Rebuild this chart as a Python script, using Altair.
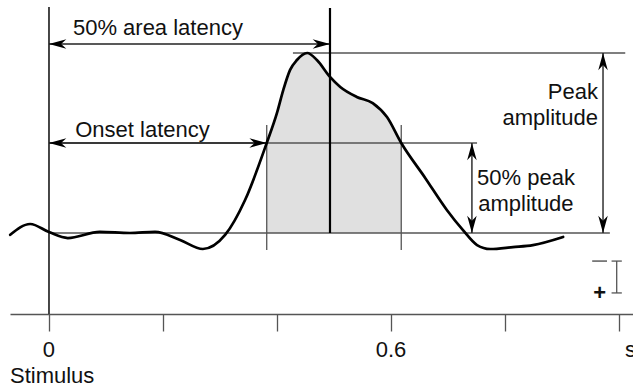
import altair as alt
import pandas as pd

# ERP waveform: time in seconds, amplitude in microvolts (negative drawn up)
time_s = [-0.068, -0.033, 0.0, 0.033, 0.089, 0.142, 0.186, 0.230, 0.270, 0.309,
          0.344, 0.382, 0.400, 0.411, 0.423, 0.435, 0.453, 0.470, 0.493, 0.511,
          0.540, 0.568, 0.593, 0.618, 0.660, 0.698, 0.726, 0.751, 0.774, 0.814,
          0.849, 0.902]
amp_uv = [-0.10, 0.50, 0.05, -0.28, 0.06, 0.00, 0.06, -0.39, -0.89, -0.11,
          1.83, 5.00, 6.67, 7.94, 9.06, 9.61, 10.00, 9.61, 8.67, 8.11,
          7.56, 7.22, 6.44, 5.00, 3.06, 1.28, 0.17, -0.67, -0.89, -0.78,
          -0.67, -0.22]

# Measures derived from the waveform
onset_s = 0.382       # 50% peak crossing, rising edge
offset_s = 0.618      # 50% peak crossing, falling edge
area50_s = 0.493      # 50% area latency
peak_uv = 10.0
half_uv = 5.0
tick_values = [0, 0.2, 0.4, 0.6, 0.8, 1.0]

X_DOM = [-0.0684, 1.0246]
Y_DOM = [-4.5, 12.944]
FONT = "Liberation Sans"
FS = 22
GRAY = "#555555"
INTERP = "monotone"

xs = alt.Scale(domain=X_DOM, nice=False, zero=False)
ys = alt.Scale(domain=Y_DOM, nice=False, zero=False)
x_axis = alt.Axis(values=tick_values, labels=False, ticks=True, tickSize=17,
                  tickColor=GRAY, tickWidth=1.3, domainColor=GRAY, domainWidth=1.3,
                  grid=False, title=None)


def X(field):
    return alt.X(field, type="quantitative", scale=xs, axis=x_axis)


def Y(field):
    return alt.Y(field, type="quantitative", scale=ys, axis=None)


wave = pd.DataFrame({"t": time_s, "a": amp_uv})
wave["base"] = 0.0
shaded = wave[(wave.t >= onset_s) & (wave.t <= offset_s)]

area = alt.Chart(shaded).mark_area(
    color="#e0e0e0", opacity=1, interpolate=INTERP
).encode(x=X("t"), y=Y("a"), y2="base:Q")


def segs(rows):
    return pd.DataFrame(rows, columns=["t", "t2", "a", "a2"])


thin = segs([
    [0.0, 0.984, 0.0, 0.0],                # baseline
    [0.428, 1.011, peak_uv, peak_uv],      # peak level
    [0.0, 0.751, half_uv, half_uv],        # 50% peak level
    [onset_s, onset_s, 6.0, -0.94],
    [offset_s, offset_s, 6.0, -0.94],
    [0.996, 0.996, -1.56, -3.33],          # polarity bar
    [0.987, 1.005, -1.56, -1.56],
    [0.987, 1.005, -3.33, -3.33],
])
minus_sign = segs([[0.953, 0.979, -1.56, -1.56]])
stim = segs([[0.0, 0.0, 12.56, -4.5]])
area_lat = segs([[area50_s, area50_s, 12.5, 0.0]])
shafts = segs([
    [0.0, area50_s, 10.5, 10.5],
    [0.0, onset_s, half_uv, half_uv],
    [0.972, 0.972, 0.0, peak_uv],
    [0.742, 0.742, 0.0, half_uv],
])


def rule_layer(df, color, width):
    return alt.Chart(df).mark_rule(color=color, strokeWidth=width).encode(
        x=X("t"), x2="t2:Q", y=Y("a"), y2="a2:Q")


arrow_df = pd.DataFrame({
    "t": [0.0, area50_s, 0.0, onset_s, 0.972, 0.972, 0.742, 0.742],
    "a": [10.5, 10.5, half_uv, half_uv, peak_uv, 0.0, half_uv, 0.0],
    "angle": [180, 0, 180, 0, 270, 90, 270, 90],
})
ARROW = "M0,0L-2,-0.55L-1.4,0L-2,0.55Z"
heads = alt.Chart(arrow_df).mark_point(
    shape=ARROW, filled=True, color="black", size=300, opacity=1
).encode(x=X("t"), y=Y("a"), angle=alt.Angle("angle:Q", scale=None))

curve = alt.Chart(wave).mark_line(
    color="black", strokeWidth=2.7, interpolate=INTERP, strokeCap="round"
).encode(x=X("t"), y=Y("a"))


def text_layer(rows, align, size=FS, weight="normal", color="#111111", baseline="alphabetic"):
    df = pd.DataFrame(rows, columns=["t", "a", "label"])
    return alt.Chart(df).mark_text(
        align=align, baseline=baseline, font=FONT, fontSize=size,
        fontWeight=weight, color=color
    ).encode(x=X("t"), y=Y("a"), text="label:N")


left_text = text_layer([
    [0.042, 11.0, "50% area latency"],
    [0.046, 5.36, "Onset latency"],
    [0.751, 2.67, "50% peak"],
    [0.753, 1.22, "amplitude"],
    [1.0105, -6.89, "s"],
    [-0.0684, -8.33, "Stimulus"],
], "left")
right_text = text_layer([
    [0.963, 7.44, "Peak"],
    [0.963, 6.0, "amplitude"],
], "right")
center_text = text_layer([
    [0.0, -6.89, "0"],
    [0.6, -6.89, "0.6"],
], "center")
plus = text_layer([[0.966, -3.33, "+"]], "center", size=22, weight="bold",
                  baseline="middle")

chart = alt.layer(
    area,
    rule_layer(thin, GRAY, 1.3),
    rule_layer(minus_sign, "#666666", 1.6),
    rule_layer(stim, "#333333", 1.8),
    rule_layer(shafts, "#222222", 1.4),
    rule_layer(area_lat, "black", 2.2),
    curve,
    heads,
    left_text, right_text, center_text, plus,
).properties(
    width=623, height=314,
    autosize=alt.AutoSizeParams(type="none"),
    padding={"left": 10, "top": 0, "right": 0, "bottom": 74},
    background="white",
).configure_view(stroke=None)

chart.save("out.html", embed_options={"renderer": "svg", "actions": False})
